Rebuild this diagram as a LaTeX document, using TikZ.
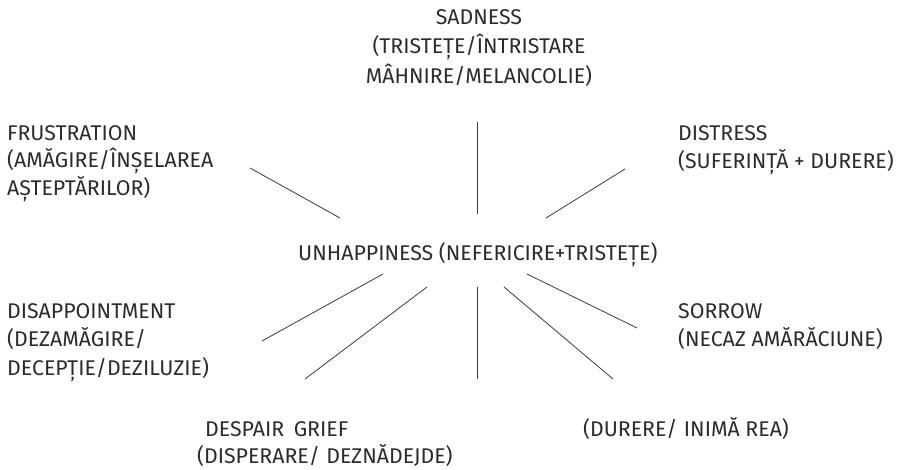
\documentclass[tikz,border=0pt]{standalone}
\usepackage{fontspec}
\setmainfont{Fira Sans}
\definecolor{txt}{HTML}{2B2B2B}
\definecolor{ln}{HTML}{3A3A3A}
\tikzset{
  lbl/.style={inner sep=0pt, text=txt, align=left, anchor=base west,
    font=\fontsize{21.3}{28}\selectfont},
  lblc/.style={lbl, align=center, anchor=base,
    font=\fontsize{21.3}{29.5}\selectfont},
  spoke/.style={draw=ln, line width=0.8pt}
}
\begin{document}
\begin{tikzpicture}[x=1pt,y=-1pt]
\useasboundingbox (0,0) rectangle (899,469);
\node[lblc] (sad) at (479,83) {SADNESS\\(TRISTEȚE/ÎNTRISTARE\\MÂHNIRE/MELANCOLIE)};
\node[lbl, font=\fontsize{21.3}{27.5}\selectfont] (fru) at (7,195) {FRUSTRATION\\(AMĂGIRE/ÎNȘELAREA\\AȘTEPTĂRILOR)};
\node[lbl] (dis) at (678,168) {DISTRESS\\(SUFERINȚĂ + DURERE)};
\node[lbl] (unh) at (298,260) {UNHAPPINESS (NEFERICIRE+TRISTEȚE)};
\node[lbl, font=\fontsize{21.3}{28.5}\selectfont] (dap) at (7,375) {DISAPPOINTMENT\\(DEZAMĂGIRE/\\DECEPȚIE/DEZILUZIE)};
\node[lbl] (sor) at (678,346) {SORROW\\(NECAZ AMĂRĂCIUNE)};
\node[lbl, font=\fontsize{21.3}{27}\selectfont] (des) at (197,463) {\hspace{8pt}DESPAIR\hspace{0.45em}GRIEF\\(DISPERARE/\hspace{0.3em}DEZNĂDEJDE)};
\node[lbl] (dur) at (583,436) {(DURERE/\hspace{0.3em}INIMĂ REA)};
% spoke end points
\coordinate (a1) at (477,122); \coordinate (a2) at (477,214);
\coordinate (b1) at (250,168); \coordinate (b2) at (340,218);
\coordinate (c1) at (625,169); \coordinate (c2) at (546,218);
\coordinate (d1) at (262,341); \coordinate (d2) at (383,274);
\coordinate (e1) at (305,379); \coordinate (e2) at (427,287);
\coordinate (f1) at (477,379); \coordinate (f2) at (477,287);
\coordinate (g1) at (613,379); \coordinate (g2) at (504,287);
\coordinate (h1) at (637,328); \coordinate (h2) at (527,274);
\draw[spoke] (a1) -- (a2);
\draw[spoke] (b1) -- (b2);
\draw[spoke] (c1) -- (c2);
\draw[spoke] (d1) -- (d2);
\draw[spoke] (e1) -- (e2);
\draw[spoke] (f1) -- (f2);
\draw[spoke] (g1) -- (g2);
\draw[spoke] (h1) -- (h2);
\end{tikzpicture}
\end{document}
